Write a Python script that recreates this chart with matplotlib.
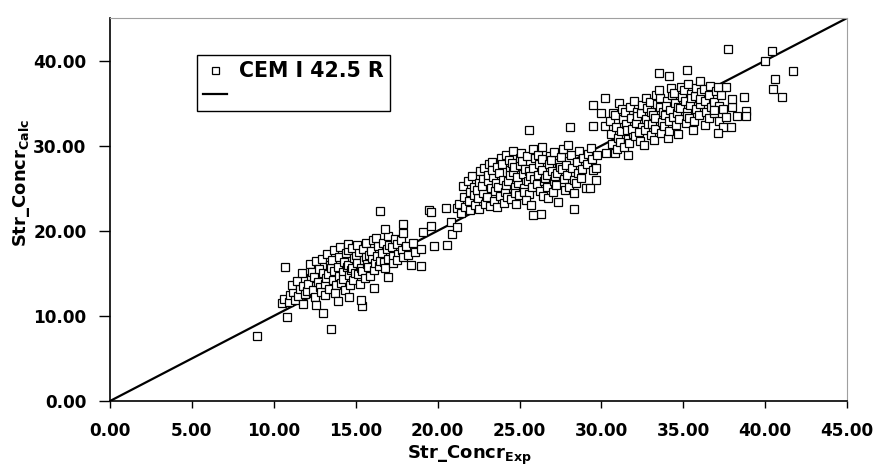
import numpy as np
import matplotlib
matplotlib.use("Agg")
import matplotlib.pyplot as plt

plt.rcParams['font.family'] = ['DejaVu Sans']
plt.rcParams['font.weight'] = 'bold'
plt.rcParams['mathtext.fontset'] = 'custom'
plt.rcParams['mathtext.rm'] = 'DejaVu Sans:bold'
plt.rcParams['mathtext.bf'] = 'DejaVu Sans:bold'

# (Str_Concr_Exp, Str_Concr_Calc) pairs, by group
low_group = [
    (9.0, 7.6), (10.8, 9.9), (10.5, 11.5), (10.7, 15.7), (13.5, 8.5), (13.0, 10.3),
    (10.6, 12.0), (10.9, 11.6), (11.0, 12.4), (11.2, 12.8), (11.3, 11.9), (11.1, 13.6),
    (11.5, 12.3), (11.6, 13.2), (11.4, 14.1), (11.8, 13.5), (11.9, 12.6), (11.7, 15.0),
    (11.8, 11.4), (12.0, 12.9), (12.25, 14.4), (12.1, 13.8), (12.2, 16.1), (12.4, 13.1),
    (12.35, 15.2), (12.5, 12.2), (12.45, 14.6), (12.7, 14.0), (12.6, 16.4), (12.8, 13.4),
    (12.75, 15.5), (12.9, 12.8), (12.6, 11.3), (13.0, 15.0), (13.1, 13.8), (12.95, 16.7),
    (13.2, 14.4), (13.15, 12.4), (13.3, 14.9), (13.4, 16.0), (13.35, 13.2), (13.25, 17.3),
    (13.5, 15.6), (13.6, 14.2), (13.7, 15.3), (13.55, 16.6), (13.8, 13.6), (13.65, 17.8),
    (13.75, 12.7), (13.9, 15.8), (14.0, 14.7), (13.95, 16.9), (14.1, 13.9), (14.05, 18.1),
    (13.9, 11.8), (14.2, 15.1), (14.3, 16.3), (14.25, 14.3), (14.4, 17.4), (14.35, 13.0),
    (14.45, 15.7), (14.5, 16.0), (14.6, 14.8), (14.55, 17.7), (14.7, 15.4), (14.65, 13.6),
    (14.5, 18.4), (14.6, 12.2), (14.8, 15.6), (14.9, 16.8), (14.85, 14.2), (15.0, 17.2),
    (14.95, 15.0), (14.8, 18.0), (15.1, 16.2), (15.2, 17.5), (15.15, 14.9), (15.3, 15.6),
    (15.05, 18.3), (15.25, 13.8), (15.4, 15.3), (15.5, 16.6), (15.45, 17.9), (15.55, 14.4),
    (15.6, 16.9), (15.4, 11.2), (15.3, 11.9), (15.7, 16.1), (15.8, 17.2), (15.75, 15.7),
    (15.65, 18.6), (15.85, 14.7), (16.0, 16.8), (16.1, 15.4), (15.95, 17.6), (16.05, 18.9),
    (16.2, 16.2), (16.1, 13.3), (16.3, 17.0), (16.4, 15.9), (16.35, 18.2), (16.5, 16.5),
    (16.25, 19.2), (16.6, 17.4), (16.7, 16.3), (16.65, 18.6), (16.8, 15.6), (16.9, 17.9),
    (17.0, 16.7), (16.95, 19.4), (17.05, 18.3), (17.0, 14.6), (17.2, 18.1), (17.3, 17.0),
    (17.25, 16.2), (17.4, 19.0), (17.5, 18.5), (17.6, 17.3), (17.55, 16.6), (17.8, 17.8),
    (17.75, 18.9), (17.9, 16.9), (18.1, 18.2), (18.2, 17.1), (18.5, 18.6), (18.6, 17.5),
    (18.4, 16.0), (19.0, 17.9), (19.0, 15.9), (16.5, 22.3), (17.9, 20.8), (17.9, 19.7),
    (16.8, 20.2), (19.1, 19.9),
]

mid_group = [
    (19.8, 18.2), (20.6, 18.3), (20.9, 19.6), (20.8, 21.0), (21.2, 20.5), (19.6, 20.6),
    (19.5, 22.4), (20.5, 22.7), (21.2, 22.7), (19.6, 22.2),
    (21.3, 23.2), (21.4, 22.1), (21.6, 24.0), (21.7, 22.8), (21.55, 25.3), (21.9, 23.5),
    (21.85, 25.9), (22.0, 24.6), (21.95, 22.4), (22.2, 24.2), (22.1, 26.4), (22.3, 23.0),
    (22.25, 25.1), (22.5, 25.6), (22.45, 23.8), (22.6, 27.0), (22.55, 22.6), (22.4, 24.8),
    (22.8, 24.4), (22.75, 26.1), (22.9, 23.2), (22.85, 27.4), (22.7, 25.3), (23.1, 25.9),
    (23.0, 24.0), (23.15, 27.8), (23.2, 22.9), (23.05, 26.6), (23.25, 25.0), (23.4, 26.3),
    (23.5, 24.7), (23.35, 28.1), (23.45, 23.5), (23.55, 25.6), (23.3, 27.2), (23.7, 25.2),
    (23.65, 27.5), (23.8, 24.1), (23.75, 26.8), (23.9, 28.6), (23.6, 22.8), (24.0, 26.0),
    (24.1, 24.5), (23.95, 27.9), (24.15, 25.4), (24.05, 23.3), (24.2, 28.9), (24.3, 25.8),
    (24.4, 27.1), (24.25, 24.0), (24.45, 26.5), (24.35, 28.3), (24.5, 23.7), (24.6, 26.9),
    (24.7, 25.1), (24.55, 28.0), (24.75, 24.4), (24.65, 27.5), (24.6, 29.4), (24.9, 25.6),
    (25.0, 27.7), (24.85, 26.3), (24.95, 24.2), (25.05, 28.6), (24.8, 23.1), (25.2, 26.7),
    (25.3, 25.0), (25.15, 28.2), (25.35, 27.3), (25.25, 24.6), (25.1, 29.1), (25.5, 25.9),
    (25.6, 27.0), (25.45, 28.8), (25.55, 24.3), (25.65, 26.4), (25.4, 23.6), (25.8, 27.4),
    (25.9, 26.1), (25.75, 25.2), (25.95, 28.5), (25.85, 29.6), (25.7, 23.0), (26.1, 26.6),
    (26.2, 27.9), (26.05, 25.5), (26.25, 24.7), (26.15, 28.9), (26.3, 22.0), (26.4, 27.2),
    (26.5, 25.8), (26.35, 28.4), (26.55, 26.2), (26.45, 24.1), (26.4, 29.9), (26.7, 26.5),
    (26.8, 27.8), (26.65, 25.1), (26.85, 28.8), (26.75, 23.8), (27.0, 27.0), (27.1, 25.9),
    (26.95, 28.3), (27.15, 26.4), (27.05, 24.5), (27.1, 29.3), (27.3, 26.8), (27.4, 28.0),
    (27.25, 25.4), (27.45, 27.5), (27.35, 23.4), (27.6, 27.3), (27.7, 26.1), (27.55, 28.7),
    (27.75, 24.8), (27.65, 29.6), (27.9, 26.6), (28.0, 28.2), (27.85, 27.7), (28.05, 25.2),
    (27.95, 30.1), (28.2, 27.4), (28.3, 26.0), (28.15, 28.9), (28.35, 24.4), (28.3, 22.6),
    (28.5, 28.1), (28.6, 26.8), (28.45, 25.6), (28.65, 29.4), (28.8, 27.3), (28.9, 28.6),
    (28.75, 26.2), (29.1, 27.8), (29.2, 29.0), (29.05, 25.0), (29.4, 28.4), (29.5, 27.1),
    (29.35, 29.7), (29.7, 27.4), (29.75, 28.9), (29.65, 26.0), (29.3, 25.0), (25.8, 21.9),
    (25.6, 31.8), (28.1, 32.2),
]

high_group = [
    (30.3, 29.1), (30.8, 29.1), (31.6, 28.9), (29.5, 32.3), (30.2, 32.3), (30.0, 33.8),
    (30.7, 33.8), (29.5, 34.8), (31.1, 35.0), (30.2, 35.6),
    (30.6, 31.4), (30.5, 32.9), (30.65, 30.2), (30.9, 32.2), (31.0, 30.9), (30.85, 33.6),
    (30.95, 29.6), (31.2, 31.7), (31.3, 33.1), (31.15, 30.4), (31.25, 34.3), (31.5, 32.5),
    (31.6, 30.8), (31.45, 33.9), (31.55, 31.9), (31.4, 29.9), (31.8, 33.2), (31.9, 31.4),
    (31.75, 34.5), (31.85, 32.0), (31.7, 30.3), (32.1, 32.7), (32.2, 34.0), (32.05, 31.1),
    (32.15, 33.5), (32.0, 35.2), (32.4, 33.8), (32.5, 32.2), (32.35, 30.6), (32.45, 34.8),
    (32.3, 31.6), (32.7, 33.1), (32.8, 34.4), (32.65, 31.9), (32.75, 35.6), (32.85, 32.6),
    (32.6, 30.1), (33.0, 34.0), (33.1, 32.5), (32.95, 35.1), (33.05, 31.3), (33.15, 33.6),
    (33.3, 33.3), (33.4, 34.9), (33.25, 32.0), (33.35, 36.0), (33.2, 30.7), (33.6, 34.5),
    (33.7, 32.8), (33.55, 35.6), (33.65, 31.5), (33.75, 33.9), (33.5, 36.6), (33.9, 33.6),
    (34.0, 35.2), (33.85, 32.3), (33.95, 34.7), (34.05, 30.9), (34.2, 34.2), (34.3, 35.9),
    (34.15, 32.9), (34.35, 33.4), (34.25, 36.8), (34.1, 31.7), (34.5, 35.0), (34.6, 33.8),
    (34.45, 36.2), (34.55, 32.4), (34.65, 34.6), (34.8, 34.4), (34.9, 35.7), (34.75, 33.1),
    (34.85, 36.9), (34.7, 31.4), (35.1, 35.3), (35.2, 34.0), (35.05, 36.5), (35.15, 32.7),
    (35.25, 33.5), (35.4, 34.8), (35.5, 36.1), (35.35, 33.3), (35.45, 35.6), (35.3, 37.3),
    (35.7, 35.8), (35.8, 34.3), (35.65, 32.9), (35.75, 36.8), (35.6, 31.8), (36.0, 34.9),
    (36.1, 36.3), (35.95, 33.6), (36.05, 35.5), (36.0, 37.6), (36.3, 35.2), (36.4, 33.9),
    (36.25, 36.7), (36.35, 32.4), (36.6, 36.0), (36.7, 34.6), (36.55, 33.2), (36.65, 37.0),
    (36.9, 35.1), (37.0, 36.4), (36.85, 33.8), (37.2, 34.7), (37.3, 35.9), (37.15, 32.9),
    (37.4, 34.3), (36.9, 34.2), (37.6, 33.4), (37.9, 32.2), (37.4, 32.2), (37.1, 31.5),
    (37.6, 36.9), (37.1, 36.9), (38.0, 34.5), (38.3, 33.5), (38.8, 34.1), (38.8, 33.5),
    (38.0, 35.5), (38.7, 35.7), (33.5, 38.5), (34.1, 38.2), (35.2, 38.9), (37.7, 41.4),
    (40.4, 41.1), (40.0, 40.0), (41.7, 38.8), (40.6, 37.8), (40.5, 36.7), (41.0, 35.7),
]

# ideal line Calc = Exp
ideal_x = [0.0, 45.0]
ideal_y = [0.0, 45.0]

x_ticks = [0, 5, 10, 15, 20, 25, 30, 35, 40, 45]
y_ticks = [0, 10, 20, 30, 40]

pts = np.array(low_group + mid_group + high_group)

fig = plt.figure(figsize=(8.74, 4.67), dpi=100)
ax = fig.add_axes([0.1259, 0.1413, 0.8433, 0.8201])

sc, = ax.plot(pts[:, 0], pts[:, 1], 's', ms=6.3, mfc='white', mec='black', mew=0.9,
              linestyle='none', zorder=3)
ln, = ax.plot(ideal_x, ideal_y, color='black', lw=1.6, zorder=2)

ax.set_xlim(0, 45)
ax.set_ylim(0, 45)
ax.set_xticks(x_ticks)
ax.set_yticks(y_ticks)
ax.set_xticklabels([f"{v:.2f}" for v in x_ticks])
ax.set_yticklabels([f"{v:.2f}" for v in y_ticks])
ax.tick_params(axis='x', direction='out', length=5, width=1, pad=10, labelsize=12.2)
ax.tick_params(axis='y', direction='out', length=8, width=1, pad=9, labelsize=12.2)
for lab in ax.get_xticklabels() + ax.get_yticklabels():
    lab.set_fontweight('bold')

for s in ['left', 'bottom']:
    ax.spines[s].set_color('black')
    ax.spines[s].set_linewidth(1.2)
for s in ['top', 'right']:
    ax.spines[s].set_color('#a0a0a0')
    ax.spines[s].set_linewidth(0.8)

ax.set_xlabel(r'Str_Concr$_{\mathrm{Exp}}$', fontsize=13, fontweight='bold')
ax.set_ylabel(r'Str_Concr$_{\mathrm{Calc}}$', fontsize=13, fontweight='bold')
ax.xaxis.set_label_coords(0.488, -0.112)
ax.yaxis.set_label_coords(-0.106, 0.57)

leg = ax.legend([sc, ln], ['CEM I 42.5 R', ' '], loc='upper left',
                bbox_to_anchor=(0.118, 0.9034), borderaxespad=0, fancybox=False,
                framealpha=1, edgecolor='black', prop={'weight': 'bold', 'size': 14.8},
                markerscale=0.8, handlelength=1.17, handletextpad=0.58,
                labelspacing=0.2, borderpad=0.3)
leg.get_frame().set_linewidth(1.0)

fig.savefig('out.png', dpi=100)
